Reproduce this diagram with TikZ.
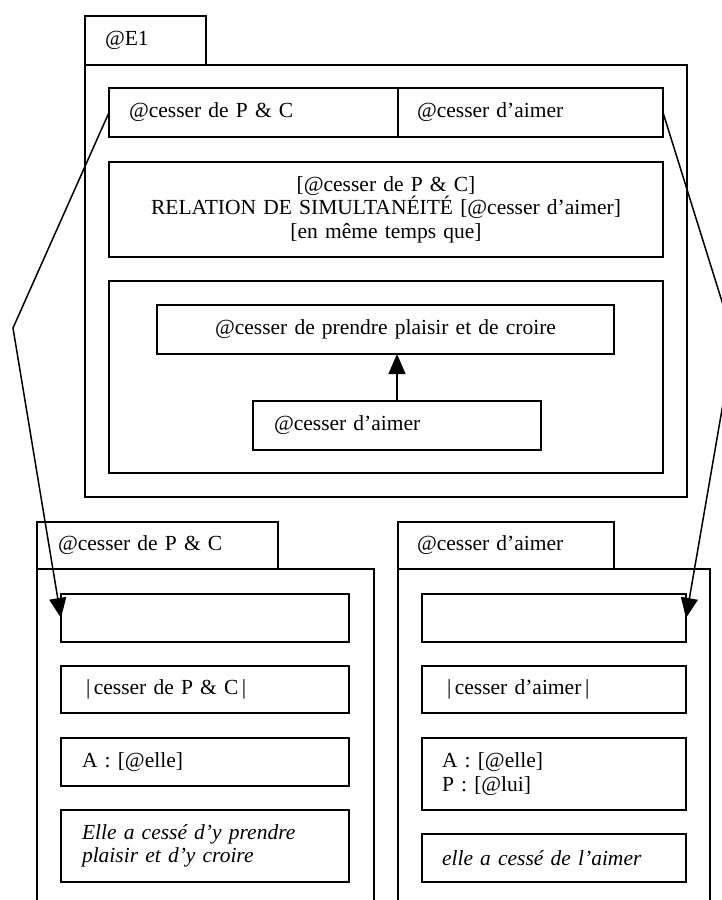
\documentclass[tikz,border=0pt]{standalone}
\usepackage{fontspec}
\setmainfont{Liberation Serif}
\usetikzlibrary{arrows.meta}
\begin{document}
\begin{tikzpicture}[x=1pt,y=-1pt,
  bx/.style={draw, line width=1.8pt, rectangle, anchor=north west, inner ysep=0pt, outer sep=0pt,
    font=\fontsize{21.5}{23.5}\selectfont},
  conn/.style={line width=1.5pt, -{Triangle[length=20pt,width=17pt]}}]
\clip (0,0) rectangle (722,900);
% top frame
\node[bx, minimum width=121, minimum height=49, inner xsep=20, text width=81, align=left] (tabE) at (85,16) {@E1};
\node[bx, minimum width=602, minimum height=432] (frameE) at (85,65) {};
\node[bx, minimum width=289, minimum height=49, inner xsep=20, text width=249, align=left] (rowL) at (109,88) {@cesser de P \& C};
\node[bx, minimum width=265, minimum height=49, inner xsep=19, text width=227, align=left] (rowR) at (398,88) {@cesser d’aimer};
\node[bx, minimum width=554, minimum height=95, inner xsep=7, text width=540, align=center] (rel) at (109,162)
  {{[@cesser de P \& C]}\\{RELATION DE SIMULTANÉITÉ [@cesser d’aimer]}\\{[en même temps que]}};
\node[bx, minimum width=554, minimum height=192] (inner) at (109,281) {};
\node[bx, minimum width=457, minimum height=49, inner xsep=5, text width=447, align=center] (pren) at (157,305) {@cesser de prendre plaisir et de croire};
\node[bx, minimum width=288, minimum height=49, inner xsep=21, text width=246, align=left] (aim) at (253,401) {@cesser d’aimer};
% left frame
\node[bx, minimum width=241, minimum height=47, inner xsep=21, text width=199, align=left] (tabL) at (37,522) {@cesser de P \& C};
\node[bx, minimum width=337, minimum height=400] (frameL) at (37,569) {};
\node[bx, minimum width=288, minimum height=48] (l1) at (61,594) {};
\node[bx, minimum width=288, minimum height=47, inner xsep=25, text width=238, align=left] (l2) at (61,666) {|\,cesser de P \& C\,|};
\node[bx, minimum width=288, minimum height=48, inner xsep=21, text width=246, align=left] (l3) at (61,738) {A : [@elle]};
\node[bx, minimum width=288, minimum height=72, inner xsep=21, text width=246, align=left] (l4) at (61,810)
  {\itshape Elle a cessé d’y prendre\\{\itshape plaisir et d’y croire}};
% right frame
\node[bx, minimum width=216, minimum height=47, inner xsep=19, text width=178, align=left] (tabR) at (398,522) {@cesser d’aimer};
\node[bx, minimum width=312, minimum height=400] (frameR) at (398,569) {};
\node[bx, minimum width=264, minimum height=48] (r1) at (422,594) {};
\node[bx, minimum width=264, minimum height=47, inner xsep=25, text width=214, align=left] (r2) at (422,666) {|\,cesser d’aimer\,|};
\node[bx, minimum width=264, minimum height=72, inner xsep=20, text width=224, align=left] (r3) at (422,738) {A : [@elle]\\P : [@lui]};
\node[bx, minimum width=264, minimum height=48, inner xsep=20, text width=224, align=left] (r4) at (422,834) {\itshape elle a cessé de l’aimer};
% connectors
\coordinate (kL) at (13,328);
\coordinate (kR) at (734,340);
\draw[conn] (rowL.west) -- (kL) -- (l1.west);
\draw[conn] (rowR.east) -- (kR) -- (r1.east);
\draw[conn] (aim.north) -- (aim.north |- pren.south);
\end{tikzpicture}
\end{document}
